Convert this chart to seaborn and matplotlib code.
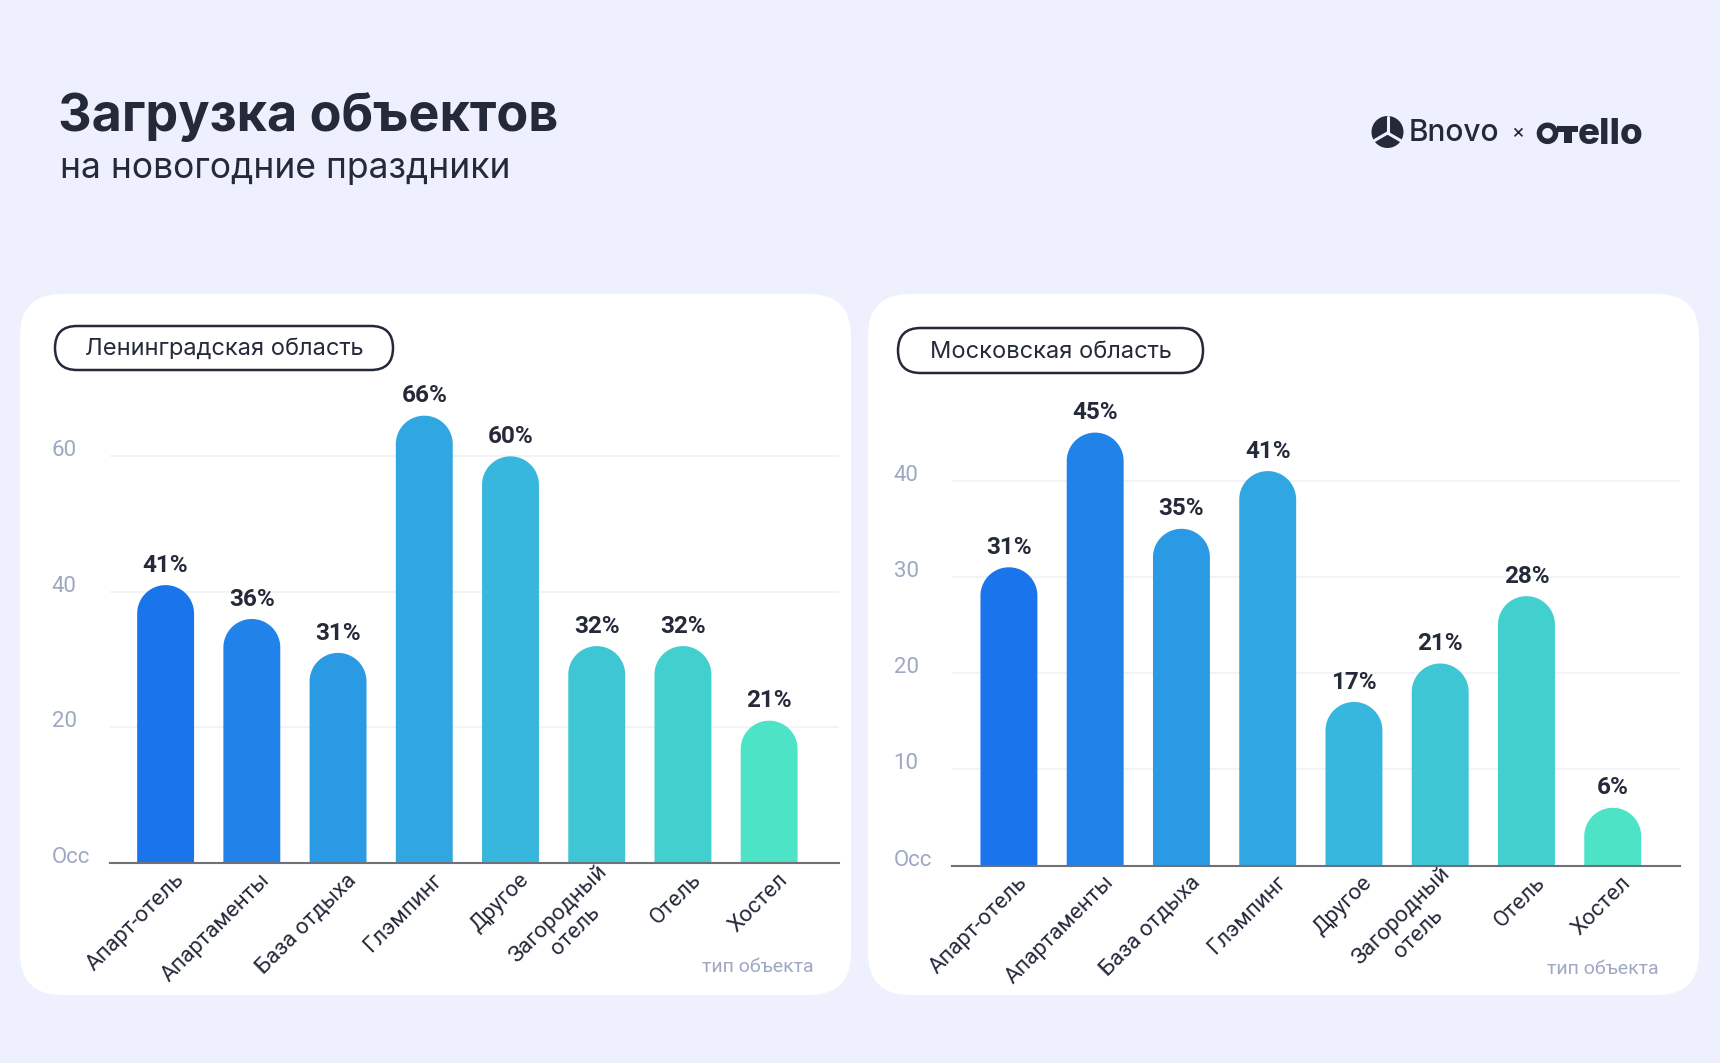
import matplotlib
matplotlib.use('Agg')
import matplotlib.pyplot as plt
import matplotlib.transforms as mtransforms
from matplotlib.patches import FancyBboxPatch, Polygon, Circle, Rectangle, Wedge
import numpy as np
import pandas as pd
import seaborn as sns

# data
categories = ['Апарт-отель', 'Апартаменты', 'База отдыха', 'Глэмпинг', 'Другое',
              'Загородный\nотель', 'Отель', 'Хостел']
leningrad_values = [41, 36, 31, 66, 60, 32, 32, 21]
moscow_values = [31, 45, 35, 41, 17, 21, 28, 6]
leningrad_ticks = [0, 20, 40, 60]
moscow_ticks = [0, 10, 20, 30, 40]
zero_label = 'Occ'
bar_colors = ['#1A74EC', '#2183E9', '#2B9AE4', '#31A7E2', '#37B6DE', '#3EC6D5', '#42D0CE', '#4CE3C6']

BG = '#EEF1FD'
DARK = '#252A3B'
MUTED = '#9DA8C2'
W, H = 1720, 1063

sns.set_style('white')
plt.rcParams['font.family'] = ['Roboto', 'DejaVu Sans']

fig = plt.figure(figsize=(W / 100, H / 100), dpi=100, facecolor=BG)

# background layer in pixel coordinates (y down)
bg = fig.add_axes([0, 0, 1, 1], zorder=0)
bg.set_xlim(0, W)
bg.set_ylim(H, 0)
bg.axis('off')

bg.text(58, 131, 'Загрузка объектов', fontsize=37.5, fontweight='bold', color=DARK,
        family=['Inter', 'DejaVu Sans'], va='baseline')
bg.text(60, 178, 'на новогодние праздники', fontsize=25.5, color=DARK,
        family=['Inter', 'DejaVu Sans'], va='baseline')

# logo
bg.add_patch(Circle((1387.5, 132), 16, fc=DARK, ec='none'))
for ang in (90, 210, 330):
    a = np.deg2rad(ang)
    bg.plot([1387.5, 1387.5 + 16 * np.cos(a)], [133, 133 - 16 * np.sin(a)], color=BG, lw=2.2)
bg.text(1409, 133, 'Bnovo', fontsize=21.5, fontweight='medium', color=DARK,
        family=['Inter', 'DejaVu Sans'], va='center')
bg.text(1518, 134, '×', fontsize=15, color=DARK, ha='center', va='center')
bg.add_patch(Wedge((1547.5, 133.3), 10.8, 0, 360, width=5.5, fc=DARK, ec='none'))
bg.add_patch(Rectangle((1557, 125.5), 21, 6, fc=DARK, ec='none'))
bg.add_patch(Rectangle((1564, 125.5), 8, 17.5, fc=DARK, ec='none'))
bg.text(1578, 144, 'ello', fontsize=26.5, fontweight='heavy', color=DARK,
        family=['Inter', 'DejaVu Sans'], va='baseline')


def card(x, y, w, h):
    bg.add_patch(FancyBboxPatch((x, y), w, h, boxstyle='round,pad=0,rounding_size=42',
                                fc='white', ec='none'))


def pill(x, y, w, h, label):
    bg.add_patch(FancyBboxPatch((x, y), w, h, boxstyle=f'round,pad=0,rounding_size={h / 2}',
                                fc='white', ec=DARK, lw=1.8))
    bg.text(x + w / 2, y + h / 2 + 1, label, fontsize=17, color=DARK,
            family=['Inter', 'DejaVu Sans'], ha='center', va='center')


card(20, 294, 831, 701)
card(868, 294, 831, 701)
pill(55, 326, 338, 44, 'Ленинградская область')
pill(898, 328, 305, 45, 'Московская область')
bg.text(814, 967, 'тип объекта', fontsize=14, color=MUTED, ha='right', va='center')
bg.text(1659, 969, 'тип объекта', fontsize=14, color=MUTED, ha='right', va='center')


def round_tops(ax):
    x0p, y0p = ax.transData.transform((0, 0))
    x1p, y1p = ax.transData.transform((1, 1))
    sx, sy = x1p - x0p, y1p - y0p
    theta = np.linspace(0, np.pi, 60)
    for bar in list(ax.patches):
        x, w, h = bar.get_x(), bar.get_width(), bar.get_height()
        ry = (w * sx / 2) / sy
        cx = x + w / 2
        top = list(zip(cx + w / 2 * np.cos(theta), h - ry + ry * np.sin(theta)))
        verts = [(x, 0), (x + w, 0)] + top
        ax.add_patch(Polygon(verts, closed=True, fc=bar.get_facecolor(), ec='none', zorder=2))
        bar.set_visible(False)


def panel(rect_px, values, ticks, ymax, xlim):
    left, top, right, bottom = rect_px
    ax = fig.add_axes([left / W, (H - bottom) / H, (right - left) / W, (bottom - top) / H], zorder=2)
    ax.set_facecolor('none')
    df = pd.DataFrame({'type': categories, 'value': values})
    sns.barplot(data=df, x='type', y='value', hue='type', palette=bar_colors,
                width=0.66, legend=False, saturation=1, ax=ax)
    ax.set_xlim(*xlim)
    ax.set_ylim(0, ymax)
    ax.set_xlabel('')
    ax.set_ylabel('')

    ax.set_yticks(ticks)
    ax.set_yticklabels([zero_label] + [str(t) for t in ticks[1:]])
    ax.tick_params(axis='y', length=0, pad=42, labelsize=16, labelcolor=MUTED)
    for lab in ax.get_yticklabels():
        lab.set_ha('left')
        lab.set_va('baseline')
    for t in ticks[1:]:
        ax.axhline(t, color='#EFF1F6', lw=1.2, zorder=0)

    ax.tick_params(axis='x', length=0, pad=0, labelsize=16, labelcolor=DARK)
    shift = mtransforms.ScaledTranslation(11 / 72, -10 / 72, fig.dpi_scale_trans)
    for lab in ax.get_xticklabels():
        lab.set_rotation(45)
        lab.set_ha('right')
        lab.set_va('center')
        lab.set_rotation_mode('anchor')
        lab.set_multialignment('center')
        lab.set_transform(lab.get_transform() + shift)

    sns.despine(ax=ax, left=True, top=True, right=True)
    ax.spines['bottom'].set_color('#6E7178')
    ax.spines['bottom'].set_linewidth(1.5)
    ax.spines['bottom'].set_zorder(3)

    round_tops(ax)
    for i, v in enumerate(values):
        ax.annotate(f'{v}%', (i, v), xytext=(0, 6), textcoords='offset points',
                    ha='center', va='bottom', fontsize=17.5, fontweight='bold', color=DARK)
    return ax


panel((110, 375, 839, 863), leningrad_values, leningrad_ticks, 72, (-0.645, 7.81))
panel((952, 384.5, 1680, 865.5), moscow_values, moscow_ticks, 50, (-0.66, 7.78))

fig.savefig('out.png', dpi=100, facecolor=BG)
